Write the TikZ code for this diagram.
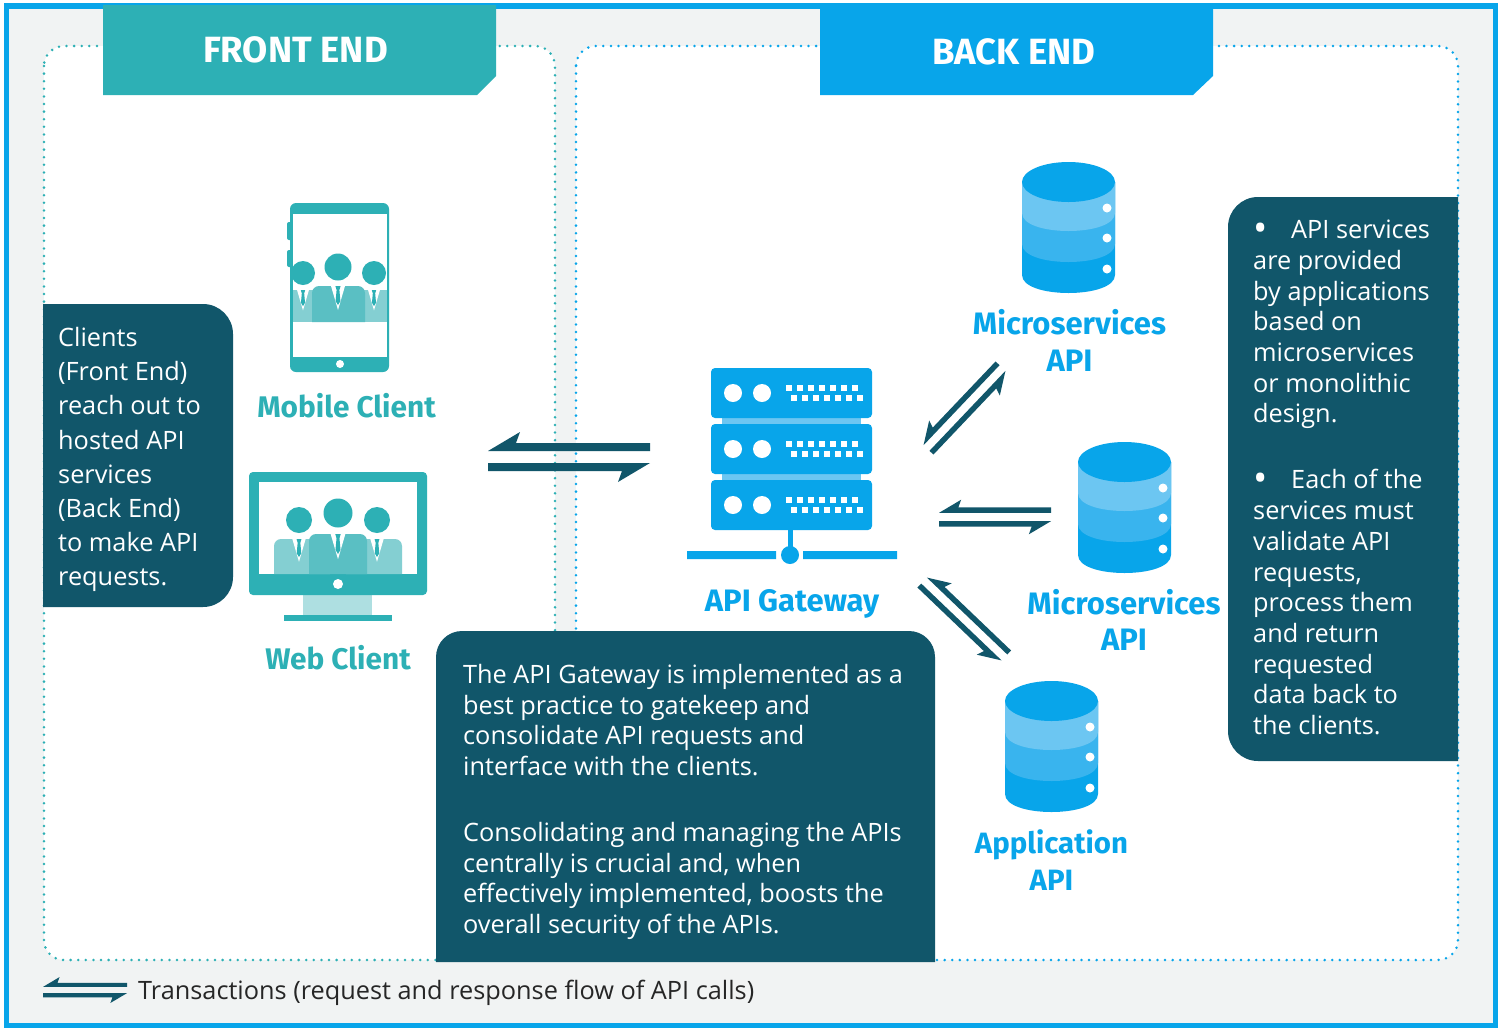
\documentclass[tikz,border=0pt]{standalone}
\usepackage{fontspec}
\setmainfont{Open Sans}
\newfontfamily\headfont{Fira Sans}
\usetikzlibrary{calc}
\definecolor{teal1}{HTML}{2DB0B5}
\definecolor{teal2}{HTML}{5ABFC3}
\definecolor{teal3}{HTML}{84CFD2}
\definecolor{teal4}{HTML}{AEDFE1}
\definecolor{blue1}{HTML}{08A5EA}
\definecolor{blue2}{HTML}{39B4EE}
\definecolor{blue3}{HTML}{6CC6F2}
\definecolor{navy}{HTML}{11566A}
\definecolor{panelbg}{HTML}{F1F3F3}
\newcommand\bigbullet{\makebox[38pt][l]{\raisebox{-2.5pt}{\fontsize{38}{30}\selectfont •}}}
\tikzset{
  bodytext/.style={text=white,anchor=north west,inner sep=0pt,align=left,font=\fontsize{25.3}{30.7}\selectfont},
  lefttext/.style={bodytext,font=\fontsize{25.3}{34.2}\selectfont},
  headlabel/.style={text=white,inner sep=0pt,font=\headfont\bfseries\fontsize{36.5}{40}\selectfont},
  tealabel/.style={text=teal1,inner sep=0pt,align=center,font=\headfont\bfseries\fontsize{29.8}{36.5}\selectfont},
  bluelabel/.style={text=blue1,inner sep=0pt,align=center,font=\headfont\bfseries\fontsize{31}{36.5}\selectfont},
  applabel/.style={text=blue1,inner sep=0pt,align=center,font=\headfont\bfseries\fontsize{29.4}{36.5}\selectfont},
  legendtext/.style={text=black!85,anchor=west,inner sep=0pt,font=\fontsize{25.3}{30}\selectfont},
  panel/.style={fill=white,rounded corners=20pt,line width=2.8pt,dash pattern=on 0pt off 7.6pt,line cap=round},
}
% half-headed transaction pair running between two named coordinates
\newcommand\pairarrow[2]{%
  \path let \p1=(#1),\p2=(#2),\n1={atan2(\y2-\y1,\x2-\x1)},\n2={veclen(\x2-\x1,\y2-\y1)/162} in
    \pgfextra{\xdef\paang{\n1}\xdef\pascl{\n2}\xdef\pamx{\the\dimexpr(\x1+\x2)/2\relax}\xdef\pamy{\the\dimexpr(\y1+\y2)/2\relax}};
  \begin{scope}[shift={(\pamx,\pamy)},rotate=\paang,scale=\pascl]
    \fill[navy] (-81,-6) -- (-49,-25) -- (-53,-14) -- (81,-14) -- (81,-6) -- cycle;
    \fill[navy] (81,6) -- (49,25) -- (53,14) -- (-81,14) -- (-81,6) -- cycle;
  \end{scope}}
\newcommand\bodyshape[5]{% xl, xr, top, bottom, colour
  \fill[#5] (#1,#4) [rounded corners=7pt] -- (#1,#3) -- (#2,#3) [sharp corners] -- (#2,#4) -- cycle;}
\newcommand\collar[3]{% cx, top, size
  \begin{scope}[shift={(#1,#2)},scale=#3]
    \fill[white] (-7,0) -- (0,24) -- (7,0) -- cycle;
    \fill[teal1] (-2.6,0) -- (2.6,0) -- (1.4,4) -- (2.4,15) -- (0,19) -- (-2.4,15) -- (-1.4,4) -- cycle;
  \end{scope}}
\newcommand\dbicon[3]{% name, x shift, y shift
  \begin{scope}[shift={(#2,#3)}]
    \coordinate (#1) at (1068.5,228);
    \fill[blue1] (1022,182) -- (1022,275) .. controls (1022,299) and (1115,299) .. (1115,275) -- (1115,182) -- cycle;
    \fill[blue2] (1022,182) -- (1022,244) .. controls (1022,268) and (1115,268) .. (1115,244) -- (1115,182) -- cycle;
    \fill[blue3] (1022,182) -- (1022,213) .. controls (1022,237) and (1115,237) .. (1115,213) -- (1115,182) -- cycle;
    \fill[blue1] (1068.5,182) ellipse [x radius=46.5pt,y radius=20pt];
    \foreach \yy in {208,238,269} \fill[white] (1107,\yy) circle[radius=4.5pt];
  \end{scope}}
\newcommand\srvunit[1]{%
  \begin{scope}[shift={(0,#1)}]
    \fill[blue1,rounded corners=4pt] (711,368) rectangle (872,418);
    \fill[white] (733,393) circle[radius=9pt] (762,393) circle[radius=9pt];
    \foreach \i in {0,...,6} {
      \fill[white] (786+11*\i,385) rectangle ++(6,6);
      \fill[white] (791+11*\i,395) rectangle ++(6,6);
    }
  \end{scope}}
\begin{document}
\begin{tikzpicture}[x=1pt,y=-1pt]
\useasboundingbox (0,0) rectangle (1500,1029);
% frame and panels
\fill[white] (0,0) rectangle (1500,1029);
\draw[draw=blue1,line width=5.5pt,fill=panelbg] (6.5,6) rectangle (1495.5,1025.5);
\draw[panel,draw=teal1] (44,46) rectangle (555,960);
\draw[panel,draw=blue1] (576,46) rectangle (1458,960);
% headers
\fill[teal1] (103,5) -- (496,5) -- (496,76) -- (477,95) -- (103,95) -- cycle;
\fill[blue1] (820,5) -- (1213,5) -- (1213,76) -- (1193,95) -- (820,95) -- cycle;
\node[headlabel] (fronthead) at (295.5,50) {FRONT END};
\node[headlabel] (backhead) at (1014,52) {BACK END};
% mobile client icon
\fill[teal1,rounded corners=2pt] (287,222) rectangle (292,240) (287,250) rectangle (292,267);
\fill[teal1,rounded corners=6pt] (290,203) rectangle (389,372);
\fill[white] (293,214) rectangle (387,357);
\fill[teal3] (293,290) rectangle (387,322);
\bodyshape{312}{365}{286}{322}{teal2}
\collar{303}{290}{0.85}
\collar{374}{290}{0.85}
\collar{338}{286}{1}
\fill[teal1] (338,267) circle[radius=13.5pt] (303,273) circle[radius=12pt] (374,273) circle[radius=12pt];
\fill[white] (340,364) circle[radius=4pt];
% web client icon
\fill[teal4] (303,590) rectangle (372,615);
\fill[teal1] (284,615) rectangle (392,621);
\fill[teal1,rounded corners=4pt] (249,472) rectangle (427,595);
\fill[white] (259,482) rectangle (417,574);
\bodyshape{274}{330}{539}{574}{teal3}
\fill[teal3] (402,574) [rounded corners=7pt] -- (402,539) -- (346,539) [sharp corners] -- (346,574) -- cycle;
\bodyshape{309}{367}{534}{574}{teal2}
\collar{299}{539}{0.95}
\collar{377}{539}{0.95}
\collar{338}{534}{1.05}
\fill[teal1] (338,513) circle[radius=14.5pt] (299,520) circle[radius=13pt] (377,520) circle[radius=13pt];
\fill[white] (338,584) circle[radius=5pt];
\node[tealabel] (mobile) at (346.5,405.5) {Mobile Client};
\node[tealabel] (web) at (338,657.5) {Web Client};
% gateway icon
\fill[blue3] (722,415) rectangle (861,484);
\srvunit{0}\srvunit{56}\srvunit{112}
\fill[blue1] (787.5,529) rectangle (792.5,553);
\fill[blue1] (687,551) rectangle (776,559) (803,551) rectangle (897,559);
\fill[blue1] (790,555) circle[radius=9pt];
\node[bluelabel] (gateway) at (792,604) {API Gateway};
% databases
\dbicon{dbA}{0}{0}
\dbicon{dbB}{56}{280}
\dbicon{dbC}{-17}{519}
\node[bluelabel] (msA) at (1069.5,340.5) {Microservices\\API};
\node[bluelabel] (msB) at (1124,620) {Microservices\\API};
\node[applabel] (app) at (1051.5,860) {Application\\API};
% transaction arrows
\coordinate (feEnd) at (488,457); \coordinate (gwEnd) at (650,457);
\coordinate (gwA) at (926.5,448); \coordinate (msAEnd) at (1002.5,368);
\coordinate (gwB) at (939,517); \coordinate (msBEnd) at (1051,517);
\coordinate (gwC) at (924,580.5); \coordinate (appEnd) at (1004.5,657.5);
\coordinate (legA) at (43,990); \coordinate (legB) at (127,990);
\pairarrow{feEnd}{gwEnd}
\pairarrow{gwA}{msAEnd}
\pairarrow{gwB}{msBEnd}
\pairarrow{gwC}{appEnd}
\pairarrow{legA}{legB}
% text boxes
\fill[navy] (43,304) [rounded corners=30pt] -- (233,304) -- (233,607) [sharp corners] -- (43,607) -- cycle;
\fill[navy] (1458,761) [rounded corners=30pt] -- (1228,761) -- (1228,197) [sharp corners] -- (1458,197) -- cycle;
\fill[navy] (436,962) [rounded corners=26pt] -- (436,631) -- (935,631) [sharp corners] -- (935,962) -- cycle;
\node[lefttext] (leftnote) at (58,327) {Clients\\(Front End)\\reach out to\\hosted API\\services\\(Back End)\\to make API\\requests.};
\node[bodytext] (rightnote) at (1253,220) {\bigbullet API services\\are provided\\by applications\\based on\\microservices\\or monolithic\\design.\\[35.3pt]\bigbullet Each of the\\services must\\validate API\\requests,\\process them\\and return\\requested\\data back to\\the clients.};
\node[bodytext] (midnote) at (463,664) {The API Gateway is implemented as a\\best practice to gatekeep and\\consolidate API requests and\\interface with the clients.\\[35.3pt]Consolidating and managing the APIs\\centrally is crucial and, when\\effectively implemented, boosts the\\overall security of the APIs.};
\node[legendtext] (legend) at (138,993) {Transactions (request and response flow of API calls)};
\end{tikzpicture}
\end{document}
